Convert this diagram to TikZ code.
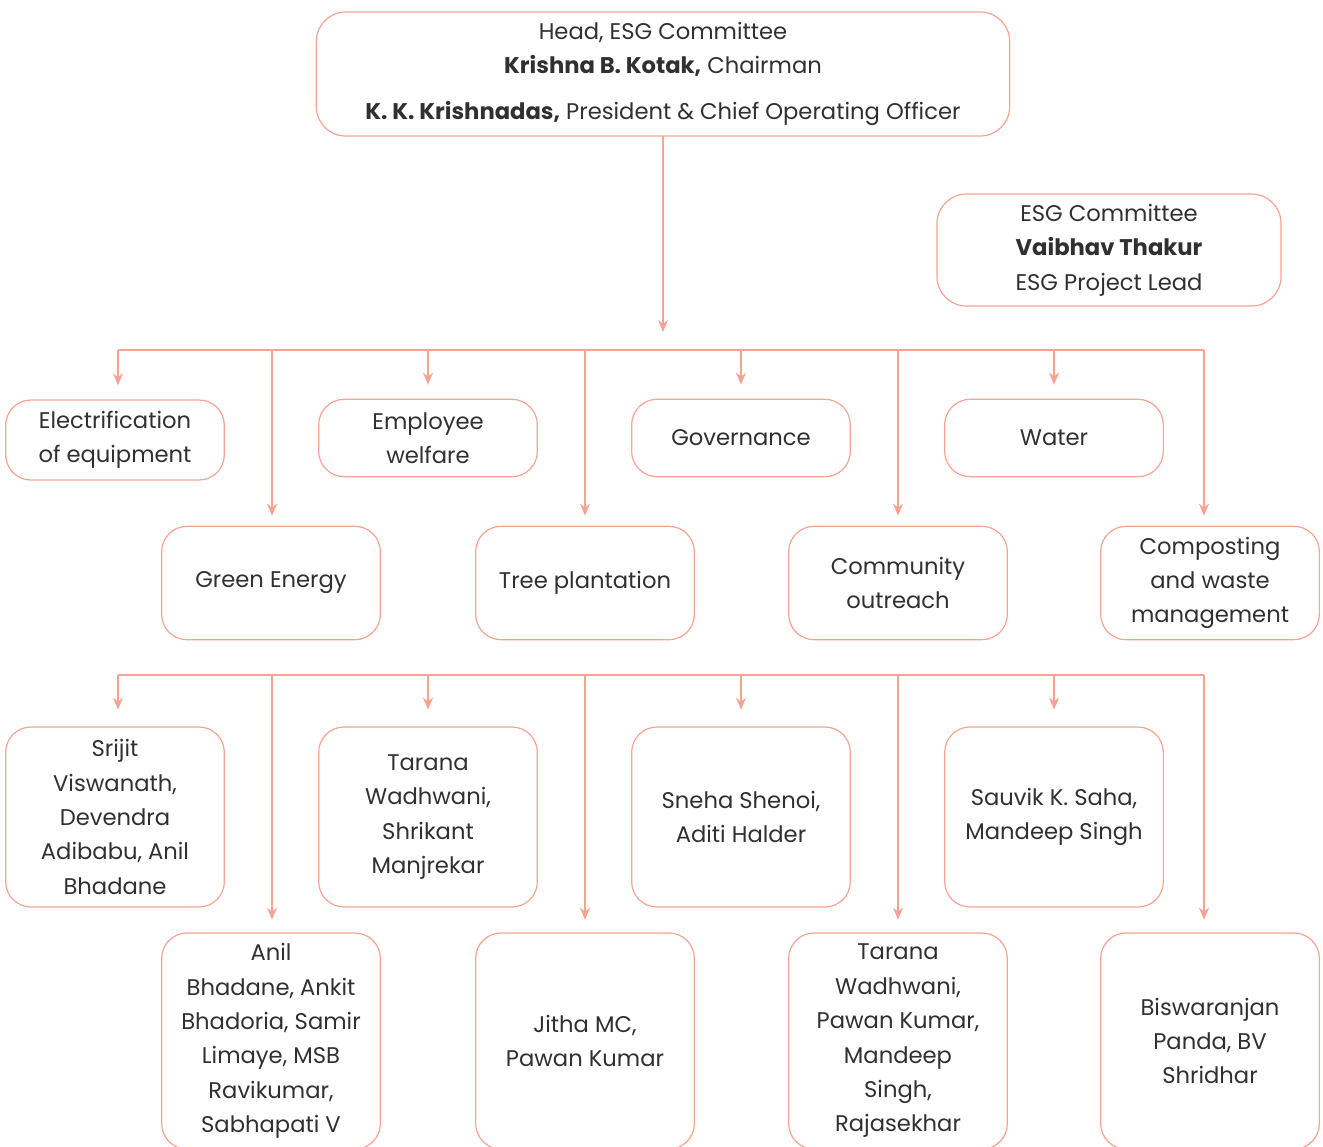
\documentclass[tikz,border=0pt]{standalone}
\usepackage{fontspec}
\setmainfont{Poppins}
\usetikzlibrary{arrows.meta}
\definecolor{linecol}{HTML}{F5A392}
\definecolor{txtcol}{HTML}{303030}

\begin{document}
\begin{tikzpicture}[
    x=0.75pt, y=-0.75pt,
    >={Stealth[length=9pt, width=7.5pt]},
    every node/.style={font=\fontsize{17}{25.8}\selectfont, text=txtcol},
    headbox/.style={
        draw=linecol, line width=0.9pt, rounded corners=22pt,
        align=center, minimum width=520pt, minimum height=93pt,
        inner sep=0pt, outer sep=0pt,
    },
    leadbox/.style={
        draw=linecol, line width=0.9pt, rounded corners=22pt,
        align=center, minimum width=258pt, minimum height=84pt,
        inner sep=0pt, outer sep=0pt,
    },
    areabox/.style={
        draw=linecol, line width=0.9pt, rounded corners=19pt,
        align=center, minimum width=164pt, minimum height=58pt,
        inner sep=0pt, outer sep=0pt,
    },
    tallbox/.style={areabox, minimum height=85pt},
    namebox/.style={areabox, minimum height=135pt},
    longbox/.style={areabox, minimum height=162pt},
    bus/.style={line width=1.1pt, draw=linecol},
    arr/.style={->, line width=1.1pt, draw=linecol, color=linecol, shorten >=13pt},
]
\useasboundingbox (0,0) rectangle (1323,1146);

% === Head and lead ===
\node[headbox] (head) at (663,74) {
    Head, ESG Committee\\
    \textbf{Krishna B. Kotak,} Chairman\\[9pt]
    \textbf{K. K. Krishnadas,} President \& Chief Operating Officer
};
\node[leadbox] (lead) at (1109,250) {
    ESG Committee\\
    \textbf{Vaibhav Thakur}\\
    ESG Project Lead
};
\coordinate (hub) at (663,332);
\draw[arr, shorten >=0pt] (head.south) -- (hub);

% === Focus areas ===
\node[areabox, minimum height=60pt] (elec) at (115,440) {Electrification\\of equipment};
\node[areabox] (welfare) at (428,438) {Employee\\welfare};
\node[areabox] (gov) at (741,438) {Governance};
\node[areabox] (water) at (1054,438) {Water};
\node[tallbox] (green) at (271,583) {Green Energy};
\node[tallbox] (tree) at (585,583) {Tree plantation};
\node[tallbox] (comm) at (898,583) {Community\\outreach};
\node[tallbox] (compost) at (1210,583) {Composting\\and waste\\management};

\coordinate (busL) at (118,350);
\coordinate (busR) at (1204,350);
\draw[bus] (busL) -- (busR);
\draw[arr, shorten >=11pt] (busL) -- (busL |- elec.north);
\draw[arr, shorten >=8pt] (busL -| 272,0) -- (272,0 |- green.north);
\draw[arr, shorten >=11pt] (busL -| welfare.north) -- (welfare.north);
\draw[arr, shorten >=8pt] (busL -| tree.north) -- (tree.north);
\draw[arr, shorten >=11pt] (busL -| gov.north) -- (gov.north);
\draw[arr, shorten >=8pt] (busL -| comm.north) -- (comm.north);
\draw[arr, shorten >=11pt] (busL -| water.north) -- (water.north);
\draw[arr, shorten >=8pt] (busR) -- (busR |- compost.north);

% === Members ===
\node[namebox] (elecm) at (115,817) {Srijit\\Viswanath,\\Devendra\\Adibabu, Anil\\Bhadane};
\node[namebox] (welfarem) at (428,817) {Tarana\\Wadhwani,\\Shrikant\\Manjrekar};
\node[namebox] (govm) at (741,817) {Sneha Shenoi,\\Aditi Halder};
\node[namebox] (waterm) at (1054,817) {Sauvik K. Saha,\\Mandeep Singh};
\node[longbox] (greenm) at (271,1041) {Anil\\Bhadane, Ankit\\Bhadoria, Samir\\Limaye, MSB\\Ravikumar,\\Sabhapati V};
\node[longbox] (treem) at (585,1041) {Jitha MC,\\Pawan Kumar};
\node[longbox] (commm) at (898,1041) {Tarana\\Wadhwani,\\Pawan Kumar,\\Mandeep\\Singh,\\Rajasekhar};
\node[longbox] (compostm) at (1210,1041) {Biswaranjan\\Panda, BV\\Shridhar};

\coordinate (bustwoL) at (118,675);
\coordinate (bustwoR) at (1204,675);
\draw[bus] (bustwoL) -- (bustwoR);
\draw[arr] (bustwoL) -- (bustwoL |- elecm.north);
\draw[arr, shorten >=10pt] (bustwoL -| 272,0) -- (272,0 |- greenm.north);
\draw[arr] (bustwoL -| welfarem.north) -- (welfarem.north);
\draw[arr, shorten >=10pt] (bustwoL -| treem.north) -- (treem.north);
\draw[arr] (bustwoL -| govm.north) -- (govm.north);
\draw[arr, shorten >=10pt] (bustwoL -| commm.north) -- (commm.north);
\draw[arr] (bustwoL -| waterm.north) -- (waterm.north);
\draw[arr, shorten >=10pt] (bustwoR) -- (bustwoR |- compostm.north);

\end{tikzpicture}
\end{document}
